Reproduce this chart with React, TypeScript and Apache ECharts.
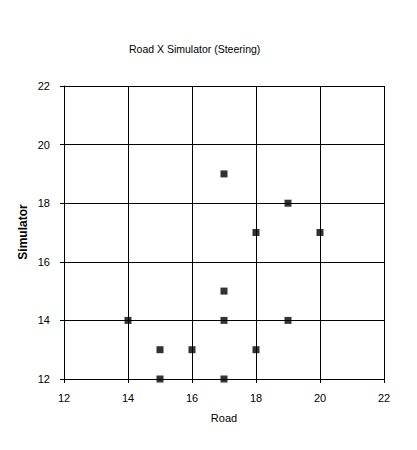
import { useEffect, useRef } from 'react';
import * as echarts from 'echarts';

const titleText = 'Road X Simulator (Steering)';
const xName = 'Road';
const yName = 'Simulator';
const roadValues = [17, 19, 18, 20, 17, 14, 17, 19, 15, 16, 18, 15, 17];
const simulatorValues = [19, 18, 17, 17, 15, 14, 14, 14, 13, 13, 13, 12, 12];
const axisMin = 12;
const axisMax = 22;
const axisStep = 2;

const font = '"Liberation Sans", Arial, sans-serif';

export default function App() {
  const chartRef = useRef<HTMLDivElement>(null);

  useEffect(() => {
    if (!chartRef.current) return;
    document.body.style.margin = '0';
    const chart = echarts.init(chartRef.current, null, { renderer: 'svg' });

    const axisCommon = {
      type: 'value' as const,
      min: axisMin,
      max: axisMax,
      interval: axisStep,
      axisLine: { show: true, lineStyle: { color: '#000', width: 1 } },
      axisTick: { show: true, inside: false, length: 4, lineStyle: { color: '#000' } },
      splitLine: { show: true, lineStyle: { color: '#000', width: 1 } },
      nameTextStyle: { color: '#000', fontFamily: font, fontSize: 11 },
    };

    chart.setOption({
      animation: false,
      backgroundColor: '#fff',
      title: {
        text: titleText,
        left: 124,
        top: 38,
        textStyle: { color: '#000', fontFamily: font, fontSize: 10.5, fontWeight: 'normal' },
      },
      grid: { left: 64, right: 33, top: 86, bottom: 71, containLabel: false },
      // y axis title placed by hand so it sits where the reference has it
      graphic: [
        {
          type: 'text',
          x: 23,
          y: 232,
          rotation: Math.PI / 2,
          style: {
            text: yName,
            fill: '#000',
            font: `bold 12px ${font}`,
            align: 'center',
            verticalAlign: 'middle',
          },
        },
      ],
      xAxis: {
        ...axisCommon,
        name: xName,
        nameLocation: 'middle',
        nameGap: 33,
        axisLabel: { color: '#000', fontFamily: font, fontSize: 11, margin: 13 },
      },
      yAxis: {
        ...axisCommon,
        axisLabel: { color: '#000', fontFamily: font, fontSize: 11, margin: 14 },
      },
      series: [
        {
          type: 'scatter',
          symbol: 'rect',
          symbolSize: 7,
          itemStyle: { color: '#000' },
          data: roadValues.map((r, i) => [r, simulatorValues[i]]),
        },
      ],
    });

    return () => chart.dispose();
  }, []);

  return <div ref={chartRef} style={{ width: 417, height: 450 }} />;
}
